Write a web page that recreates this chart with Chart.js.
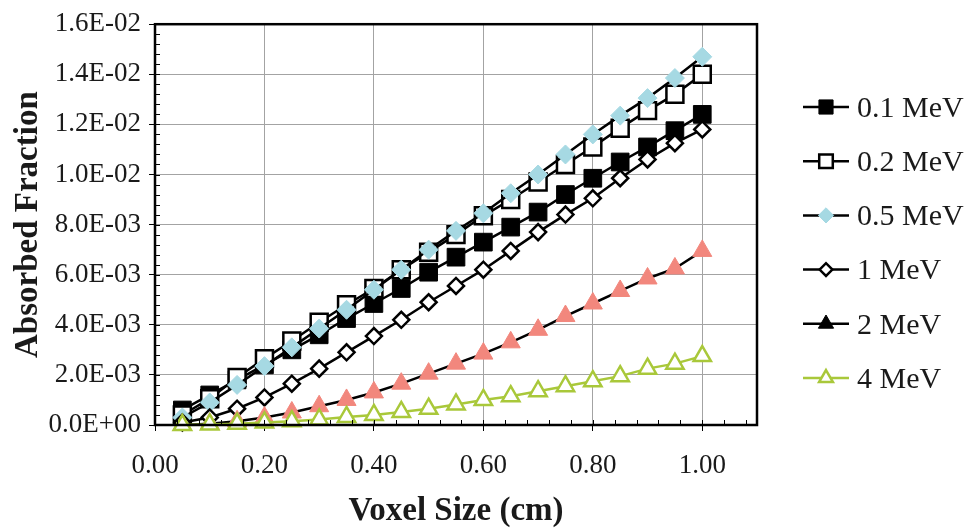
<!DOCTYPE html>
<html>
<head>
<meta charset="utf-8">
<script src="https://cdn.jsdelivr.net/npm/chart.js@4.4.1/dist/chart.umd.min.js"></script>
<style>
  html, body { margin: 0; padding: 0; background: #fff; }
  #wrap { width: 973px; height: 532px; }
</style>
</head>
<body>
<div id="wrap"><canvas id="myChart" width="973" height="532"></canvas></div>
<script>
const voxelSizes = [0.05, 0.10, 0.15, 0.20, 0.25, 0.30, 0.35, 0.40, 0.45, 0.50,
    0.55, 0.60, 0.65, 0.70, 0.75, 0.80, 0.85, 0.90, 0.95, 1.00];

const xTickValues = [0.00, 0.20, 0.40, 0.60, 0.80, 1.00];

const seriesNames = ['0.1 MeV', '0.2 MeV', '0.5 MeV', '1 MeV', '2 MeV', '4 MeV'];

const af01 = [0.60e-3, 1.20e-3, 1.80e-3, 2.40e-3, 3.00e-3, 3.60e-3, 4.25e-3, 4.85e-3, 5.45e-3, 6.10e-3,
    6.70e-3, 7.30e-3, 7.90e-3, 8.50e-3, 9.20e-3, 9.85e-3, 10.50e-3, 11.10e-3, 11.75e-3, 12.40e-3];
const af02 = [0.40e-3, 1.05e-3, 1.90e-3, 2.65e-3, 3.35e-3, 4.10e-3, 4.80e-3, 5.45e-3, 6.20e-3, 6.90e-3,
    7.60e-3, 8.35e-3, 9.00e-3, 9.70e-3, 10.40e-3, 11.10e-3, 11.85e-3, 12.55e-3, 13.20e-3, 14.00e-3];
const af05 = [0.30e-3, 0.90e-3, 1.60e-3, 2.35e-3, 3.10e-3, 3.85e-3, 4.60e-3, 5.40e-3, 6.20e-3, 7.00e-3,
    7.75e-3, 8.45e-3, 9.25e-3, 10.00e-3, 10.80e-3, 11.60e-3, 12.35e-3, 13.05e-3, 13.85e-3, 14.70e-3];
const af1 = [0.10e-3, 0.30e-3, 0.65e-3, 1.10e-3, 1.65e-3, 2.25e-3, 2.90e-3, 3.55e-3, 4.20e-3, 4.90e-3,
    5.55e-3, 6.20e-3, 6.95e-3, 7.70e-3, 8.40e-3, 9.05e-3, 9.85e-3, 10.60e-3, 11.25e-3, 11.80e-3];
const af2 = [0.00e-3, 0.05e-3, 0.15e-3, 0.30e-3, 0.50e-3, 0.75e-3, 1.00e-3, 1.30e-3, 1.65e-3, 2.05e-3,
    2.45e-3, 2.85e-3, 3.30e-3, 3.80e-3, 4.35e-3, 4.85e-3, 5.35e-3, 5.85e-3, 6.25e-3, 6.95e-3];
const af4 = [0.00e-3, 0.02e-3, 0.05e-3, 0.10e-3, 0.15e-3, 0.22e-3, 0.32e-3, 0.40e-3, 0.52e-3, 0.65e-3,
    0.82e-3, 1.00e-3, 1.15e-3, 1.35e-3, 1.55e-3, 1.75e-3, 1.95e-3, 2.25e-3, 2.45e-3, 2.75e-3];

const allSeries = [af01, af02, af05, af1, af2, af4];

const styles = [
    { line: '#000', style: 'rect', fill: '#000', border: '#000', bw: 1, r: 12.5, legendFill: '#000' },
    { line: '#000', style: 'rect', fill: '#fff', border: '#000', bw: 2.5, r: 12, legendFill: '#fff' },
    { line: '#000', style: 'rectRot', fill: '#a6d9e3', border: '#a6d9e3', bw: 1, r: 9.5, legendFill: '#a6d9e3' },
    { line: '#000', style: 'rectRot', fill: '#fff', border: '#000', bw: 2.5, r: 8, legendFill: '#fff' },
    { line: '#000', style: 'triangle', fill: '#f2877d', border: '#f2877d', bw: 1, r: 11, legendFill: '#000' },
    { line: '#a9c83a', style: 'triangle', fill: '#fff', border: '#a9c83a', bw: 2.5, r: 10, legendFill: '#fff' }
];

const PLOT = { left: 155, top: 20, right: 757, bottom: 425 };

function sciLabel(v) {
    if (Math.abs(v) < 1e-12) return '0.0E+00';
    let exp = Math.floor(Math.log10(Math.abs(v)) + 1e-9);
    let mant = v / Math.pow(10, exp);
    let sign = exp < 0 ? '-' : '+';
    let e = String(Math.abs(exp)).padStart(2, '0');
    return mant.toFixed(1) + 'E' + sign + e;
}

const datasets = allSeries.map((vals, i) => ({
    label: seriesNames[i],
    data: vals.map((v, j) => ({ x: voxelSizes[j], y: v })),
    borderColor: styles[i].line,
    borderWidth: 2.5,
    pointStyle: styles[i].style,
    pointRadius: styles[i].r,
    pointBackgroundColor: styles[i].fill,
    pointBorderColor: styles[i].border,
    pointBorderWidth: styles[i].bw,
    legendFill: styles[i].legendFill,
    tension: 0,
    fill: false,
    clip: false,
    order: allSeries.length - i
}));

// border box, minor ticks and the line+marker legend on the right
const framePlugin = {
    id: 'frame',
    afterDatasetsDraw(chart) {
        const ctx = chart.ctx;
        const a = chart.chartArea;
        const xs = chart.scales.x, ys = chart.scales.y;
        ctx.save();
        ctx.strokeStyle = '#000';
        ctx.lineWidth = 1;
        ctx.beginPath();
        for (let v = 0; v <= 1.1 + 1e-9; v += 0.04) {
            const px = Math.round(xs.getPixelForValue(v)) + 0.5;
            ctx.moveTo(px, a.bottom);
            ctx.lineTo(px, a.bottom - 5);
        }
        for (let v = 0; v <= 0.016 + 1e-9; v += 0.0004) {
            const py = Math.round(ys.getPixelForValue(v)) + 0.5;
            ctx.moveTo(a.left, py);
            ctx.lineTo(a.left + 5, py);
        }
        ctx.stroke();
        ctx.lineWidth = 2.5;
        ctx.strokeRect(a.left, a.top, a.right - a.left, a.bottom - a.top);
        ctx.restore();
    },
    afterDraw(chart) {
        const ctx = chart.ctx;
        ctx.save();
        chart.data.datasets.forEach((ds, i) => {
            const y = 107 + i * 54.2;
            ctx.strokeStyle = ds.borderColor;
            ctx.lineWidth = 2.5;
            ctx.beginPath();
            ctx.moveTo(803, y);
            ctx.lineTo(849, y);
            ctx.stroke();
            ctx.fillStyle = ds.legendFill;
            ctx.strokeStyle = ds.legendFill === '#000' ? '#000' : ds.pointBorderColor;
            ctx.lineWidth = ds.pointBorderWidth;
            Chart.helpers.drawPoint(ctx, { pointStyle: ds.pointStyle, radius: ds.pointRadius * 0.8, rotation: 0, borderWidth: ds.pointBorderWidth }, 826, y);
            ctx.fillStyle = '#1a1a1a';
            ctx.font = '30px "Liberation Serif"';
            ctx.textBaseline = 'middle';
            ctx.textAlign = 'left';
            ctx.fillText(ds.label, 857, y + 2);
        });
        ctx.restore();
    }
};

const ctx = document.getElementById('myChart');

const myChart = new Chart(ctx, { // eslint-disable-line
    type: 'line',
    data: { datasets: datasets },
    options: {
        responsive: false,
        animation: false,
        layout: { padding: { left: 0, top: PLOT.top, right: 973 - PLOT.right, bottom: 0 } },
        plugins: {
            legend: { display: false },
            tooltip: { enabled: false }
        },
        scales: {
            x: {
                type: 'linear',
                min: 0,
                max: 1.1,
                afterBuildTicks(scale) {
                    scale.ticks = xTickValues.map(v => ({ value: v }));
                },
                afterFit(scale) { scale.height = 532 - PLOT.bottom; },
                ticks: {
                    color: '#1a1a1a',
                    font: { family: 'Liberation Serif', size: 27 },
                    padding: 19,
                    maxRotation: 0,
                    autoSkip: false,
                    callback: v => v.toFixed(2)
                },
                grid: { color: '#a3a3a3', lineWidth: 1, tickColor: '#000', tickLength: 6 },
                border: { display: false },
                title: {
                    display: true,
                    text: 'Voxel Size (cm)',
                    color: '#1a1a1a',
                    font: { family: 'Liberation Serif', size: 33, weight: 'bold' },
                    padding: { top: 0, bottom: 1 }
                }
            },
            y: {
                min: 0,
                max: 0.016,
                afterFit(scale) { scale.width = PLOT.left; },
                ticks: {
                    stepSize: 0.002,
                    color: '#1a1a1a',
                    font: { family: 'Liberation Serif', size: 27 },
                    padding: 8,
                    callback: v => sciLabel(v)
                },
                grid: { color: '#a3a3a3', lineWidth: 1, tickColor: '#000', tickLength: 6 },
                border: { display: false },
                title: {
                    display: true,
                    text: 'Absorbed Fraction',
                    color: '#1a1a1a',
                    font: { family: 'Liberation Serif', size: 33, weight: 'bold' },
                    padding: { top: 9, bottom: 0 }
                }
            }
        }
    },
    plugins: [framePlugin]
});
</script>
</body>
</html>
